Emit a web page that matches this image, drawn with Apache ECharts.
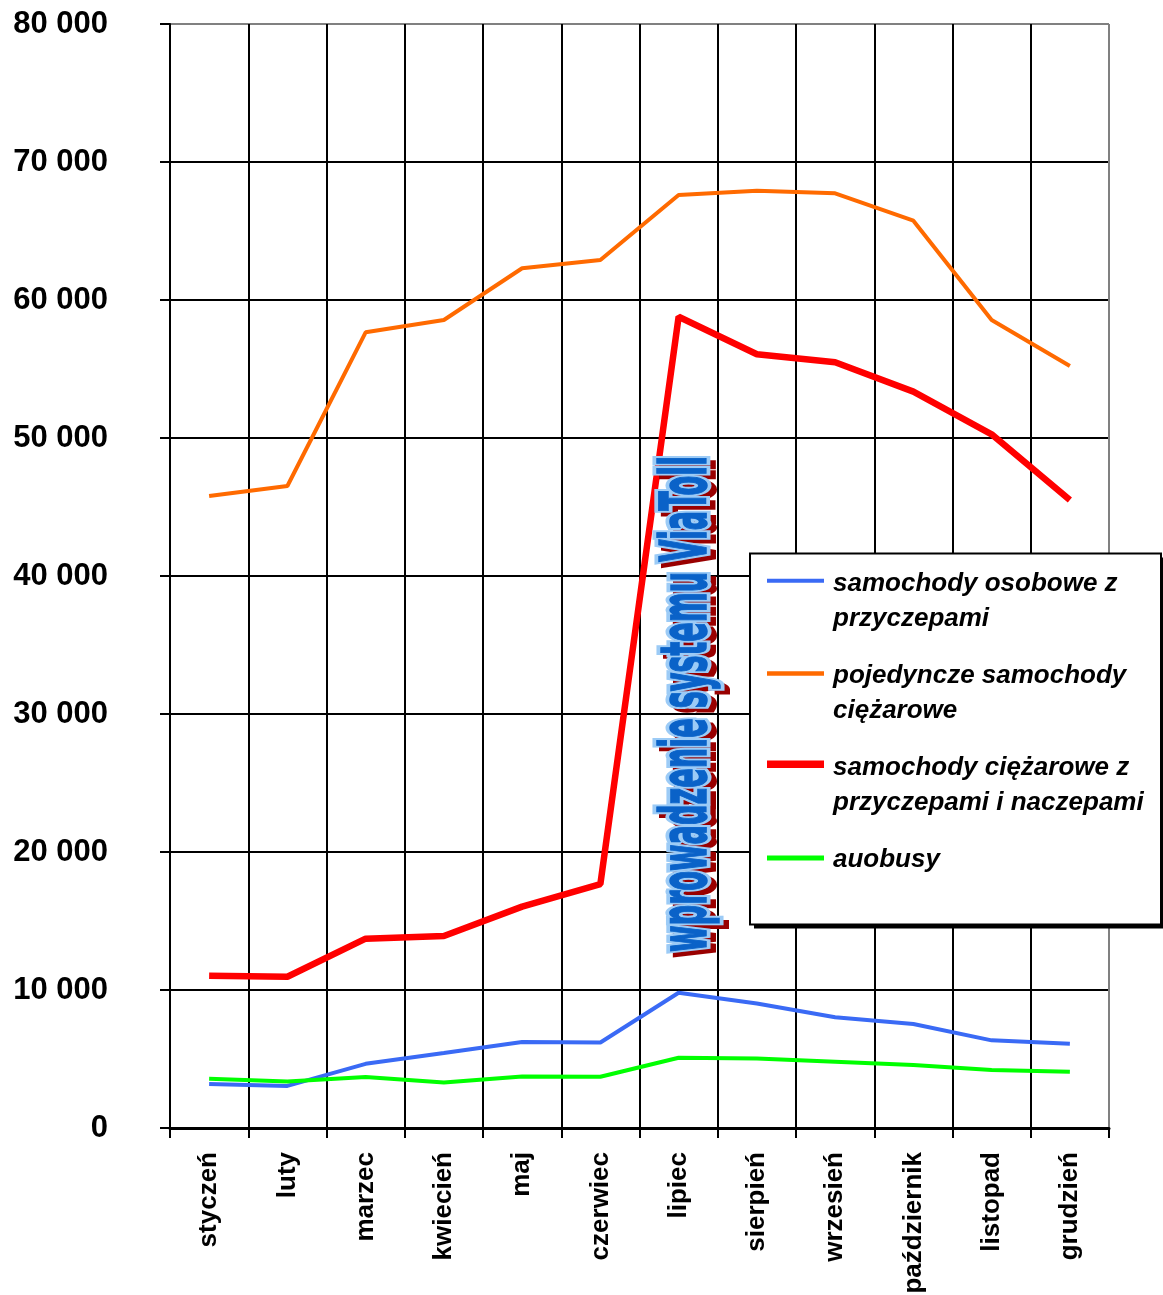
<!DOCTYPE html>
<html>
<head>
<meta charset="utf-8">
<script src="https://cdn.jsdelivr.net/npm/echarts@6/dist/echarts.min.js"></script>
<style>
html,body{margin:0;padding:0;background:#fff;}
#chart{width:1163px;height:1295px;}
</style>
</head>
<body>
<div id="chart"></div>
<script>
const months = ['styczeń','luty','marzec','kwiecień','maj','czerwiec','lipiec','sierpień','wrzesień','październik','listopad','grudzień'];
const seriesNames = ['samochody osobowe z przyczepami','pojedyncze samochody ciężarowe','samochody ciężarowe z przyczepami i naczepami','auobusy'];
const legendLabels = ['samochody osobowe z\nprzyczepami','pojedyncze samochody\nciężarowe','samochody ciężarowe z\nprzyczepami i naczepami','auobusy\n '];
const osobowe   = [3180, 3050, 4650, 5430, 6230, 6200, 9800, 9020, 8020, 7540, 6350, 6110];
const pojedyncze= [45800,46520,57660,58550,62300,62900,67610,67920,67730,65750,58550,55220];
const ciezaroweZ= [11040,10960,13720,13910,16040,17680,58790,56070,55490,53360,50270,45510];
const autobusy  = [3560, 3370, 3690, 3300, 3730, 3710, 5090, 5040, 4800, 4560, 4200, 4070];
const yMin = 0, yMax = 80000, yStep = 10000;
const watermarkText = 'wprowadzenie systemu ViaToll';

const colors = ['#3a6af5','#ff6a00','#ff0000','#00ff00'];
const widths = [4, 4, 6.5, 4];
const iconPaths = [
  'path://M0,0L0,0M61,70L61,70M0,12.8L57,12.8L57,16.8L0,16.8Z',
  'path://M0,0L0,0M61,70L61,70M0,13.3L57,13.3L57,17.7L0,17.7Z',
  'path://M0,0L0,0M61,70L61,70M0,10.6L57,10.6L57,18L0,18Z',
  'path://M0,0L0,0M61,70L61,70M0,13.5L57,13.5L57,18.5L0,18.5Z'
];
const dataSets = [osobowe, pojedyncze, ciezaroweZ, autobusy];

const FONT = '"Liberation Sans", Arial, Helvetica, sans-serif';
const WM_FONT = '"DejaVu Sans Condensed", "Liberation Sans Narrow", "DejaVu Sans", sans-serif';
const wmSize = 64;
const cv = document.createElement('canvas').getContext('2d');
cv.font = 'bold ' + wmSize + 'px ' + WM_FONT;
const wmWidth = cv.measureText(watermarkText).width;
const wmScale = 496 / wmWidth;

const nYLines = (yMax - yMin) / yStep + 1;
const yLineColors = Array.from({length: nYLines}, (_, i) => i === nYLines - 1 ? '#808080' : '#000000');
const xLineColors = Array.from({length: months.length + 1}, (_, i) => i === months.length ? '#808080' : '#000000');

const chart = echarts.init(document.getElementById('chart'), null, {renderer: 'canvas'});

function wmText(dx, dy, fill, stroke, lw, z) {
  return {
    type: 'text', x: 689 + dx, y: 704 + dy, rotation: Math.PI / 2, scaleX: wmScale, scaleY: 1, z: z, silent: true,
    style: {
      text: watermarkText, fontSize: wmSize, fontWeight: 'bold', fontFamily: WM_FONT,
      align: 'center', verticalAlign: 'middle', textAlign: 'center', textVerticalAlign: 'middle',
      fill: fill, stroke: stroke, lineWidth: lw, lineJoin: 'round'
    }
  };
}

const option = {
  animation: false,
  backgroundColor: '#ffffff',
  color: colors,
  grid: {left: 170, right: 54, top: 24, bottom: 167, containLabel: false, outerBoundsMode: 'none', show: false},
  xAxis: {
    type: 'category', data: months, boundaryGap: true,
    axisLine: {show: true, lineStyle: {color: '#000', width: 3}},
    axisTick: {show: true, interval: 0, length: 10, lineStyle: {color: '#000', width: 2}},
    axisLabel: {show: true, interval: 0, rotate: 90, margin: 24, fontSize: 26, fontWeight: 'bold', fontFamily: FONT, color: '#000'},
    splitLine: {show: true, interval: 0, lineStyle: {color: xLineColors, width: 2}}
  },
  yAxis: {
    type: 'value', min: yMin, max: yMax, interval: yStep,
    axisLine: {show: true, lineStyle: {color: '#000', width: 2}},
    axisTick: {show: true, length: 10, lineStyle: {color: '#000', width: 2}},
    axisLabel: {
      show: true, margin: 62, fontSize: 31, fontWeight: 'bold', fontFamily: FONT, color: '#000',
      formatter: v => String(v).replace(/\B(?=(\d{3})+(?!\d))/g, ' ')
    },
    splitLine: {show: true, lineStyle: {color: yLineColors, width: 2}}
  },
  legend: {
    show: true, orient: 'vertical', left: 767, top: 566, padding: 0, itemGap: 22,
    itemWidth: 61, itemHeight: 70, z: 120, selectedMode: false,
    itemStyle: {borderWidth: 0},
    data: seriesNames.map((n, i) => ({name: n, icon: iconPaths[i]})),
    formatter: name => legendLabels[seriesNames.indexOf(name)],
    textStyle: {fontSize: 26, fontWeight: 'bold', fontStyle: 'italic', fontFamily: FONT, color: '#000', lineHeight: 35}
  },
  graphic: [
    wmText(6, 4, '#990000', '#990000', 8, 40),
    wmText(0, 0, '#9ccbf6', '#9ccbf6', 9, 41),
    wmText(0, 0, '#0a62c8', '#0a62c8', 1.5, 42),
    {type: 'rect', z: 100, silent: true, shape: {x: 754, y: 557.5, width: 411, height: 371}, style: {fill: '#000'}},
    {type: 'rect', z: 101, silent: true, shape: {x: 750, y: 553.5, width: 411, height: 371}, style: {fill: '#fff', stroke: '#000', lineWidth: 2}}
  ],
  series: seriesNames.map((n, i) => ({
    name: n, type: 'line', data: dataSets[i], symbol: 'none', smooth: false, z: 3,
    lineStyle: {color: colors[i], width: widths[i]}, itemStyle: {color: colors[i]}
  }))
};
chart.setOption(option);
</script>
</body>
</html>
